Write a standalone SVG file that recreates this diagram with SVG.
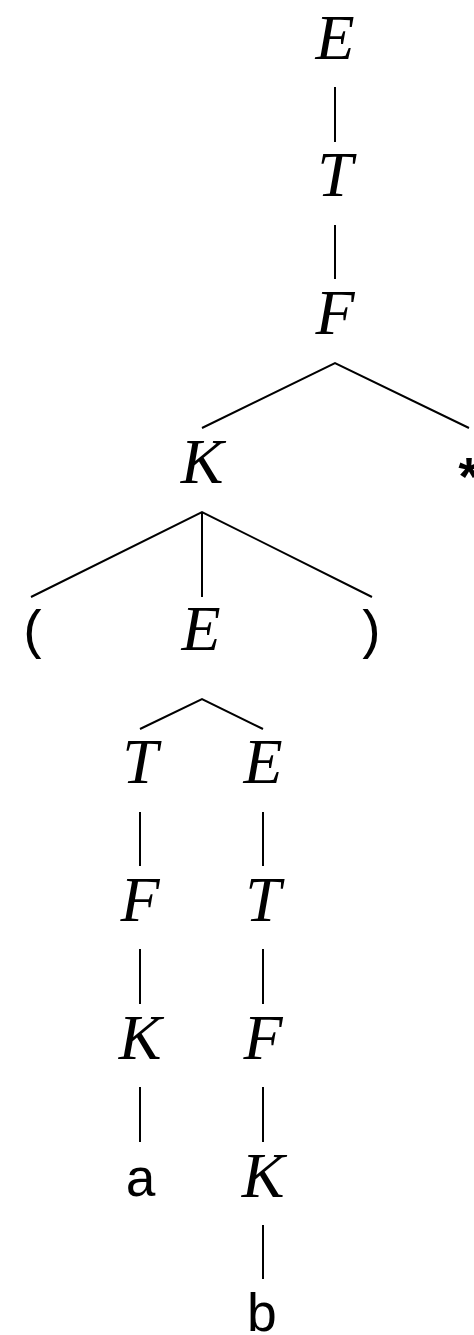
<svg xmlns="http://www.w3.org/2000/svg" width="474" height="1335" viewBox="0 0 474 1335">
<style>
.m{font-family:"Liberation Serif","Times New Roman",serif;font-style:italic;font-size:64px;fill:#000;text-anchor:middle}
.t{font-family:"Liberation Mono","Courier New",monospace;font-size:54px;fill:#000;text-anchor:middle}
.e{stroke:#000;stroke-width:2;fill:none}
</style>
<rect width="474" height="1335" fill="#fff"/>
<g id="connectors" class="e">
<line x1="335" y1="87" x2="335" y2="142"/>
<line x1="335" y1="225" x2="335" y2="279"/>
<polyline points="202,428 335,363 469,428"/>
<polyline points="31,597 202,512 372,597"/>
<line x1="202" y1="512" x2="202" y2="597"/>
<polyline points="140,729 202,699 263,729"/>
<line x1="140" y1="812" x2="140" y2="866"/>
<line x1="140" y1="949" x2="140" y2="1004"/>
<line x1="140" y1="1087" x2="140" y2="1142"/>
<line x1="263" y1="812" x2="263" y2="866"/>
<line x1="263" y1="949" x2="263" y2="1004"/>
<line x1="263" y1="1087" x2="263" y2="1142"/>
<line x1="263" y1="1225" x2="263" y2="1279"/>
</g>
<g id="n-E1"><text class="m" x="335" y="59">E</text></g>
<g id="n-T1"><text class="m" x="335" y="196">T</text></g>
<g id="n-F1"><text class="m" x="335" y="334">F</text></g>
<g id="n-K1"><text class="m" x="202" y="483">K</text></g>
<g id="n-star"><text class="t" x="469" y="497" font-weight="bold">*</text></g>
<g id="n-lp"><text class="t" x="34" y="648">(</text></g>
<g id="n-E2"><text class="m" x="201" y="650">E</text></g>
<g id="n-rp"><text class="t" x="370" y="648">)</text></g>
<g id="n-T2"><text class="m" x="140" y="783">T</text></g>
<g id="n-E3"><text class="m" x="263" y="783">E</text></g>
<g id="n-F2"><text class="m" x="140" y="921">F</text></g>
<g id="n-T3"><text class="m" x="263" y="921">T</text></g>
<g id="n-K2"><text class="m" x="140" y="1059">K</text></g>
<g id="n-F3"><text class="m" x="263" y="1059">F</text></g>
<g id="n-a"><text class="t" x="141" y="1196">a</text></g>
<g id="n-K3"><text class="m" x="263" y="1197">K</text></g>
<g id="n-b"><text class="t" x="262" y="1331">b</text></g>
</svg>
